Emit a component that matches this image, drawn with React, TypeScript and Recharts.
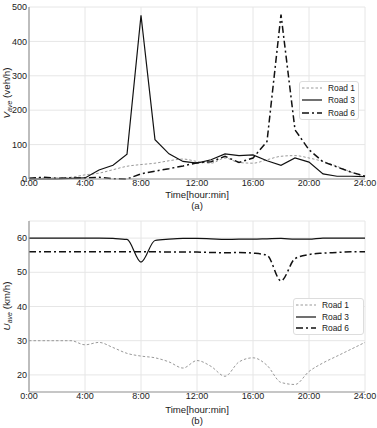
import { LineChart, Line, XAxis, YAxis, CartesianGrid } from 'recharts';

const hours = [0, 1, 2, 3, 4, 5, 6, 7, 8, 9, 10, 11, 12, 13, 14, 15, 16, 17, 18, 19, 20, 21, 22, 23, 24];
const hourTicks = [0, 4, 8, 12, 16, 20, 24];
const volumeTicks = [0, 100, 200, 300, 400, 500];
const speedTicks = [20, 30, 40, 50, 60];

// (a) average volume, veh/h
const volRoad1 = [2, 3, 3, 5, 12, 17, 27, 37, 42, 46, 53, 58, 51, 46, 61, 48, 46, 56, 66, 68, 61, 51, 37, 20, 8];
const volRoad3 = [0, 0, 0, 2, 3, 26, 40, 72, 476, 114, 73, 51, 46, 56, 73, 68, 70, 53, 40, 61, 49, 15, 8, 8, 7];
const volRoad6 = [2, 5, 2, 3, 3, 5, 1, 0, 15, 23, 30, 38, 47, 50, 66, 48, 61, 109, 478, 143, 85, 50, 35, 20, 8];

// (b) average speed, km/h
const spdRoad1 = [30, 30, 30, 30, 28.8, 29.5, 28, 26.3, 25.5, 25, 23.8, 22, 24.2, 22.5, 19.6, 23.8, 25, 22.8, 17.8, 17.2, 21, 23.5, 25.5, 27.5, 29.5];
const spdRoad3 = [60, 60, 60, 60, 60, 60, 59.9, 59.6, 53, 59.3, 59.7, 59.9, 59.9, 59.8, 59.6, 59.7, 59.7, 59.8, 59.9, 59.7, 59.7, 60, 60, 60, 60];
const spdRoad6 = [56, 56, 56, 56, 56, 56, 56, 56, 56, 56, 55.9, 55.9, 55.9, 55.8, 55.7, 55.8, 55.6, 55, 47.5, 54, 55.2, 55.6, 55.8, 56, 56];

const volData = hours.map((h, i) => ({ h, r1: volRoad1[i], r3: volRoad3[i], r6: volRoad6[i] }));
const spdData = hours.map((h, i) => ({ h, r1: spdRoad1[i], r3: spdRoad3[i], r6: spdRoad6[i] }));

const FONT = '"Liberation Sans", Arial, sans-serif';
const tickStyle = { fontSize: 9, fill: '#222', fontFamily: FONT };
const frame = '#999';

const styles = {
  r1: { stroke: '#999', width: 1, dash: '2.5 2' },
  r3: { stroke: '#111', width: 1.2, dash: undefined },
  r6: { stroke: '#111', width: 1.5, dash: '7 3 2 3' },
};
const legendItems = [
  { key: 'r1', name: 'Road 1' },
  { key: 'r3', name: 'Road 3' },
  { key: 'r6', name: 'Road 6' },
] as const;

function Legend({ left, top, width, rowH }: { left: number; top: number; width: number; rowH: number }) {
  return (
    <div style={{ position: 'absolute', left, top, width, background: '#fff', border: '1px solid #ddd', borderRadius: 3, padding: '0 2px', fontFamily: FONT, fontSize: 8.4, color: '#222' }}>
      {legendItems.map((it) => {
        const s = styles[it.key];
        return (
          <div key={it.key} style={{ display: 'flex', alignItems: 'center', height: rowH }}>
            <svg width={20} height={6} style={{ marginRight: 6 }}>
              <line x1={0} y1={3} x2={20} y2={3} stroke={s.stroke} strokeWidth={s.width} strokeDasharray={s.dash} />
            </svg>
            <span>{it.name}</span>
          </div>
        );
      })}
    </div>
  );
}

function Panel({ data, domain, ticks, top, xh }: { data: any[]; domain: [number, number]; ticks: number[]; top: number; xh: number }) {
  const curve = domain[1] > 100 ? 'linear' : 'monotone';
  return (
    <div style={{ position: 'absolute', left: 0, top }}>
      <LineChart width={377} height={214} data={data} margin={{ top: 7, right: 12, left: 0, bottom: 0 }}>
        <CartesianGrid stroke="#e6e6e6" />
        <XAxis dataKey="h" type="number" domain={[0, 24]} ticks={hourTicks} tickFormatter={(v) => `${v}:00`} tick={tickStyle} tickLine={false} tickSize={0} tickMargin={1} height={xh} axisLine={{ stroke: frame, strokeWidth: 1.2 }} interval={0} />
        <XAxis xAxisId="top" orientation="top" dataKey="h" type="number" domain={[0, 24]} tick={false} tickLine={false} height={0} axisLine={{ stroke: frame }} />
        <YAxis domain={domain} ticks={ticks} tick={tickStyle} tickLine={false} tickSize={0} tickMargin={2} width={29} axisLine={{ stroke: frame, strokeWidth: 1.2 }} interval={0} />
        <YAxis yAxisId="right" orientation="right" domain={domain} tick={false} tickLine={false} width={0} axisLine={{ stroke: frame }} />
        <Line type="monotone" dataKey="r1" stroke={styles.r1.stroke} strokeWidth={styles.r1.width} strokeDasharray={styles.r1.dash} dot={false} isAnimationActive={false} />
        <Line type={curve} dataKey="r3" stroke={styles.r3.stroke} strokeWidth={styles.r3.width} dot={false} isAnimationActive={false} />
        <Line type={curve} dataKey="r6" stroke={styles.r6.stroke} strokeWidth={styles.r6.width} strokeDasharray={styles.r6.dash} dot={false} isAnimationActive={false} />
      </LineChart>
    </div>
  );
}

function Caption({ text, y }: { text: string; y: number }) {
  return (
    <div style={{ position: 'absolute', left: 29, width: 336, top: y - 6, height: 12, lineHeight: '12px', textAlign: 'center', fontFamily: FONT, fontSize: 9.6, color: '#222' }}>{text}</div>
  );
}

function YLabel({ sym, unit, cy }: { sym: string; unit: string; cy: number }) {
  return (
    <div style={{ position: 'absolute', left: 7 - 50, top: cy - 6, width: 100, height: 12, lineHeight: '12px', textAlign: 'center', transform: 'rotate(-90deg)', fontFamily: FONT, fontSize: 9.8, color: '#222', whiteSpace: 'nowrap' }}>
      <i>{sym}</i><sub style={{ fontSize: 7, fontStyle: 'italic', verticalAlign: '-2px' }}>ave</sub> {unit}
    </div>
  );
}

export default function App() {
  return (
    <div style={{ position: 'absolute', left: 0, top: 0, width: 377, height: 428, background: '#fff' }}>
      <Panel data={volData} domain={[0, 500]} ticks={volumeTicks} top={0} xh={35} />
      <Panel data={spdData} domain={[15, 65]} ticks={speedTicks} top={214} xh={36} />
      <YLabel sym="V" unit="(veh/h)" cy={93} />
      <YLabel sym="U" unit="(km/h)" cy={306} />
      <Caption text="Time[hour:min]" y={195} />
      <Caption text="(a)" y={206} />
      <Caption text="Time[hour:min]" y={410} />
      <Caption text="(b)" y={421} />
      <Legend left={299} top={81} width={54} rowH={12.3} />
      <Legend left={293} top={298} width={65} rowH={11.7} />
    </div>
  );
}
